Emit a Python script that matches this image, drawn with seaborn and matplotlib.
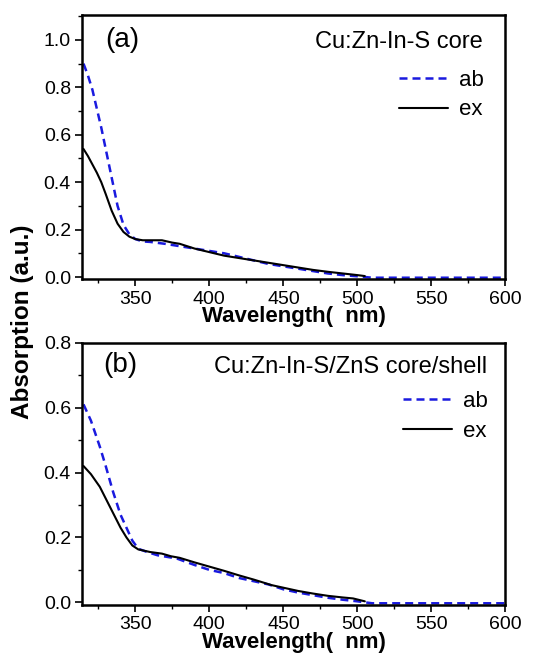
import matplotlib
matplotlib.use("Agg")
import matplotlib.pyplot as plt
import numpy as np
import pandas as pd
import seaborn as sns
from matplotlib.ticker import MultipleLocator

# panel (a): Cu:Zn-In-S core
wl_ab_a = [315, 318, 321, 324, 327, 330, 334, 338, 342, 346, 350, 355, 360, 370, 380, 390, 400,
           410, 420, 430, 440, 450, 460, 470, 480, 490, 500, 505, 510, 520, 540, 560, 580, 600]
ab_a = [0.90, 0.85, 0.79, 0.71, 0.63, 0.54, 0.42, 0.30, 0.22, 0.18, 0.16, 0.15, 0.148, 0.14, 0.13,
        0.12, 0.11, 0.10, 0.085, 0.07, 0.055, 0.045, 0.035, 0.025, 0.015, 0.008, 0.003, 0.0,
        -0.003, -0.003, -0.003, -0.003, -0.003, -0.003]
wl_ex_a = [315, 318, 321, 324, 327, 330, 334, 338, 342, 346, 350, 355, 360, 368, 375, 380, 390,
           400, 410, 420, 430, 440, 450, 460, 470, 480, 490, 500, 505]
ex_a = [0.54, 0.51, 0.475, 0.44, 0.40, 0.35, 0.28, 0.225, 0.19, 0.17, 0.16, 0.155, 0.155, 0.155,
        0.145, 0.14, 0.12, 0.105, 0.09, 0.08, 0.07, 0.06, 0.05, 0.04, 0.03, 0.022, 0.015, 0.008, 0.004]

# panel (b): Cu:Zn-In-S/ZnS core/shell
wl_ab_b = [315, 320, 326, 330, 335, 340, 344, 348, 352, 358, 365, 378, 390, 400, 410, 420, 430,
           440, 450, 460, 470, 480, 490, 500, 505, 510, 520, 540, 560, 580, 600]
ab_b = [0.61, 0.56, 0.48, 0.42, 0.34, 0.27, 0.23, 0.19, 0.165, 0.155, 0.145, 0.135, 0.115, 0.10,
        0.09, 0.075, 0.065, 0.055, 0.04, 0.03, 0.022, 0.014, 0.008, 0.003, 0.0, -0.003, -0.003,
        -0.003, -0.003, -0.003, -0.003]
wl_ex_b = [315, 320, 326, 330, 335, 340, 344, 348, 352, 360, 368, 374, 380, 390, 400, 410, 420,
           430, 442, 450, 460, 470, 480, 490, 497, 505]
ex_b = [0.42, 0.395, 0.356, 0.32, 0.275, 0.23, 0.20, 0.175, 0.163, 0.155, 0.15, 0.142, 0.137,
        0.123, 0.11, 0.097, 0.083, 0.07, 0.053, 0.045, 0.035, 0.027, 0.02, 0.015, 0.012, 0.003]

panel_tags = ["(a)", "(b)"]
panel_titles = ["Cu:Zn-In-S core", "Cu:Zn-In-S/ZnS core/shell"]

sns.set_style("ticks")
plt.rcParams["font.family"] = ["Liberation Sans", "DejaVu Sans"]
plt.rcParams["text.color"] = "black"
plt.rcParams["axes.labelcolor"] = "black"

fig = plt.figure(figsize=(5.45, 6.62), dpi=100)
ax_a = fig.add_axes([0.1505, 0.5778, 0.777, 0.3995])
ax_b = fig.add_axes([0.1505, 0.0861, 0.777, 0.3962])

panels = [
    (ax_a, wl_ab_a, ab_a, wl_ex_a, ex_a, (-0.0105, 1.105), [0.0, 0.2, 0.4, 0.6, 0.8, 1.0]),
    (ax_b, wl_ab_b, ab_b, wl_ex_b, ex_b, (-0.0083, 0.8), [0.0, 0.2, 0.4, 0.6, 0.8]),
]
# text placement per panel (axes fraction)
tag_pos = [(0.054, 0.905), (0.05, 0.915)]
title_pos = [(0.947, 0.898), (0.956, 0.909)]
legend_pos = [(0.95, 0.6975), (0.958, 0.718)]

for i, (ax, wab, ab, wex, ex, ylim, yticks) in enumerate(panels):
    df = pd.concat([
        pd.DataFrame({"wl": wab, "val": ab, "kind": "ab"}),
        pd.DataFrame({"wl": wex, "val": ex, "kind": "ex"}),
    ])
    sns.lineplot(data=df[df.kind == "ab"], x="wl", y="val", ax=ax, color="#1a1adf",
                 linestyle=(0, (3.2, 2.0)), linewidth=1.8, label="ab")
    sns.lineplot(data=df[df.kind == "ex"], x="wl", y="val", ax=ax, color="black",
                 linewidth=1.5, label="ex")
    ax.set_xlim(314, 600)
    ax.set_ylim(*ylim)
    ax.set_xticks([350, 400, 450, 500, 550, 600])
    ax.set_yticks(yticks)
    ax.set_yticklabels([f"{t:.1f}" for t in yticks])
    ax.xaxis.set_minor_locator(MultipleLocator(25))
    ax.yaxis.set_minor_locator(MultipleLocator(0.1))
    ax.tick_params(which="major", direction="out", length=5, width=1.2, labelsize=14,
                   colors="black", pad=3)
    ax.tick_params(which="minor", direction="out", length=3, width=1.0, colors="black")
    for s in ax.spines.values():
        s.set_linewidth(1.8)
        s.set_color("black")
    ax.set_xlabel("Wavelength(  nm)", fontsize=16, fontweight="bold", labelpad=-1)
    ax.set_ylabel("")
    ax.text(*tag_pos[i], panel_tags[i], transform=ax.transAxes, fontsize=20,
            ha="left", va="center")
    ax.text(*title_pos[i], panel_titles[i], transform=ax.transAxes, fontsize=17,
            ha="right", va="center")
    ax.legend(loc="center right", bbox_to_anchor=legend_pos[i], frameon=False,
              fontsize=16, handlelength=2.2, handletextpad=0.5, labelspacing=0.4,
              borderpad=0, borderaxespad=0)

fig.text(0.041, 0.514, "Absorption (a.u.)", rotation=90, fontsize=17.5, fontweight="bold",
         ha="center", va="center")

fig.savefig("out.png", dpi=100)
